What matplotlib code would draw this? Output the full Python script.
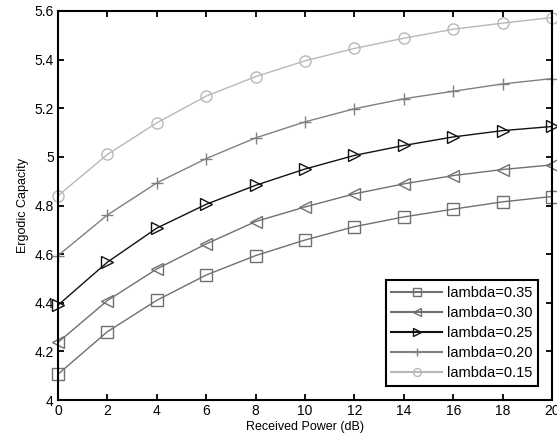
import numpy as np
import matplotlib
matplotlib.use('Agg')
import matplotlib.pyplot as plt

plt.rcParams['font.family'] = ['Liberation Sans', 'DejaVu Sans']

# received power (dB)
power = [0, 2, 4, 6, 8, 10, 12, 14, 16, 18, 20]

cap_035 = [4.106, 4.281, 4.410, 4.514, 4.594, 4.658, 4.713, 4.753, 4.785, 4.815, 4.837]
cap_030 = [4.237, 4.409, 4.539, 4.642, 4.734, 4.794, 4.848, 4.889, 4.923, 4.948, 4.967]
cap_025 = [4.390, 4.567, 4.707, 4.805, 4.883, 4.950, 5.006, 5.047, 5.082, 5.108, 5.125]
cap_020 = [4.594, 4.761, 4.893, 4.993, 5.078, 5.144, 5.198, 5.239, 5.270, 5.300, 5.322]
cap_015 = [4.840, 5.010, 5.140, 5.250, 5.330, 5.395, 5.446, 5.488, 5.525, 5.550, 5.573]

labels = ['lambda=0.35', 'lambda=0.30', 'lambda=0.25', 'lambda=0.20', 'lambda=0.15']
yticks = [4, 4.2, 4.4, 4.6, 4.8, 5, 5.2, 5.4, 5.6]
ytick_labels = ['4', '4.2', '4.4', '4.6', '4.8', '5', '5.2', '5.4', '5.6']

series = [cap_035, cap_030, cap_025, cap_020, cap_015]
markers = ['s', '<', '>', '+', 'o']
colors = ['#707070', '#707070', '#111111', '#808080', '#b8b8b8']

fig = plt.figure(figsize=(5.57, 4.45), dpi=100)
ax = fig.add_axes([58/557, 1-400/445, 494/557, 389/445])

for s, m, c, lab in zip(series, markers, colors, labels):
    ax.plot(power, s, color=c, marker=m, markersize=8 if m != '+' else 9,
            markerfacecolor='none', markeredgecolor=c, markeredgewidth=1.0,
            linewidth=1.0, label=lab, clip_on=False)

ax.set_xlim(0, 20)
ax.set_ylim(4, 5.6)
ax.set_xticks(power)
ax.set_yticks(yticks)
ax.set_yticklabels(ytick_labels)
ax.tick_params(direction='in', top=True, right=True, length=4, width=1.3,
               labelsize=10, pad=3)
for sp in ax.spines.values():
    sp.set_linewidth(1.5)

ax.set_xlabel('Received Power (dB)', fontsize=9, labelpad=2)
ax.set_ylabel('Ergodic Capacity', fontsize=9, labelpad=4)

leg = ax.legend(loc='lower right', bbox_to_anchor=(0.972, 0.036), borderaxespad=0,
                fontsize=10.5, fancybox=False, edgecolor='black', framealpha=1,
                markerscale=0.7, handlelength=3.5, borderpad=0.4,
                labelspacing=0.42, handletextpad=0.3)
leg.get_frame().set_linewidth(1.5)
for line in leg.get_lines():
    line.set_linewidth(1.5)

fig.savefig('out.png', dpi=100)
